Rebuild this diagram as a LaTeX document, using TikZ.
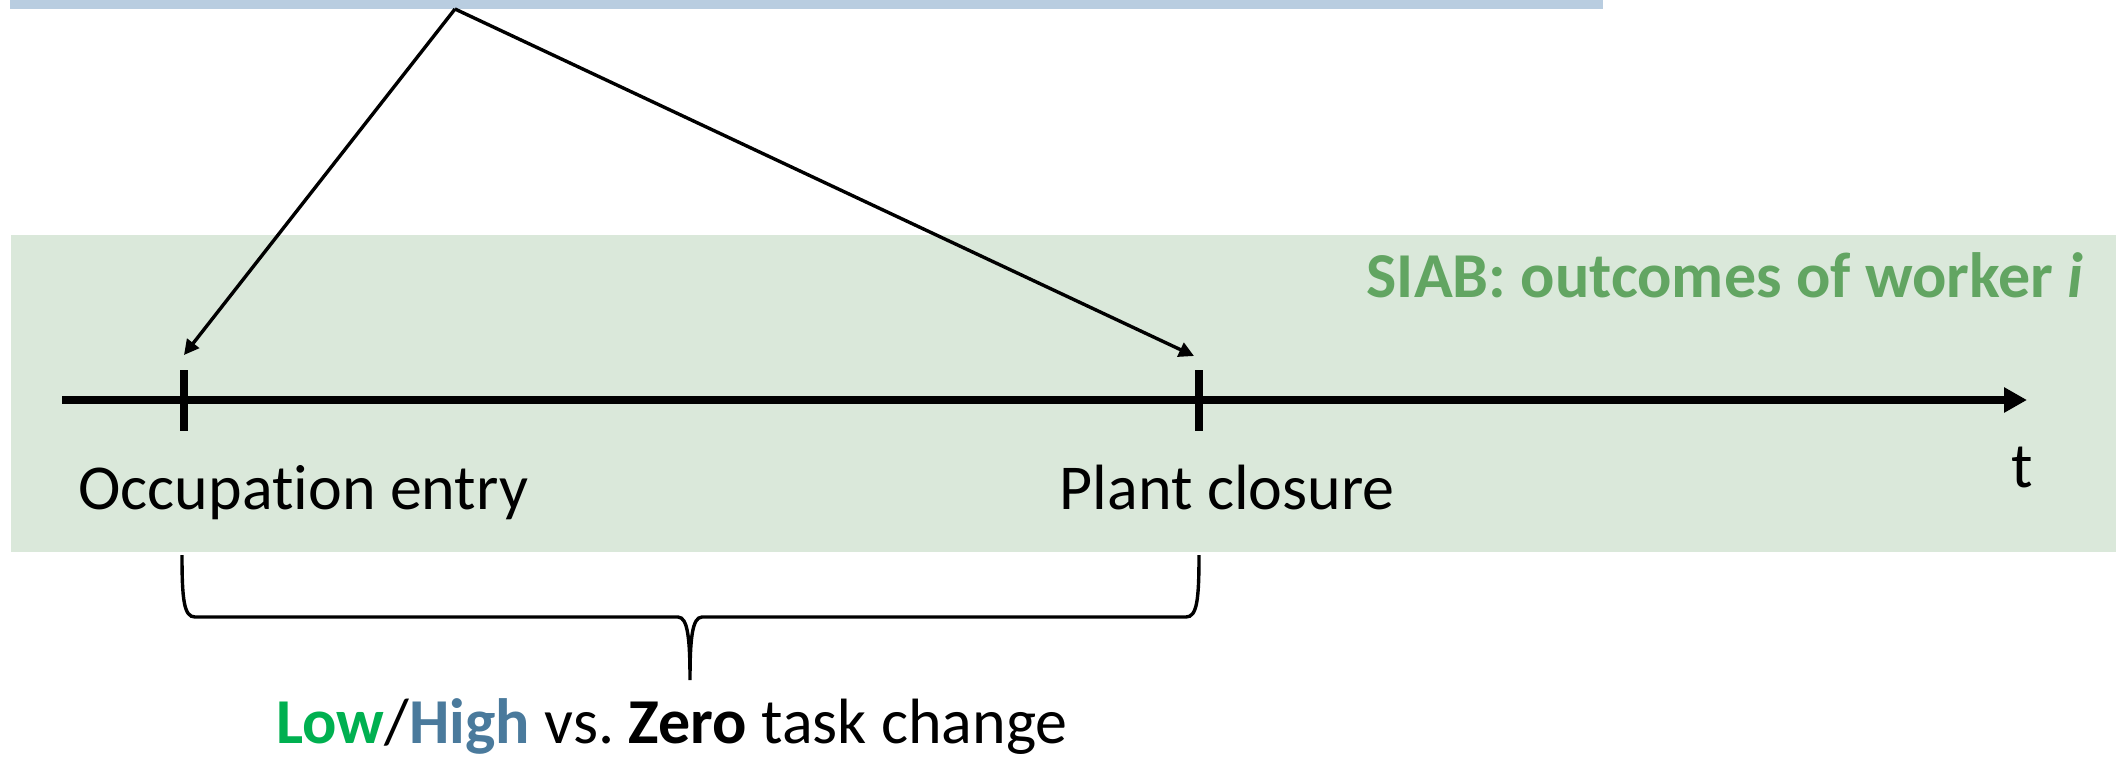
\documentclass[tikz,border=0pt]{standalone}
\usepackage{fontspec}
\setmainfont[Ligatures={NoCommon}]{Carlito}
\frenchspacing
\usetikzlibrary{arrows.meta}
\definecolor{bandblue}{HTML}{B9CDE0}
\definecolor{bandgreen}{HTML}{DAE8DA}
\definecolor{siabgreen}{HTML}{62A562}
\definecolor{lowgreen}{HTML}{00B050}
\definecolor{highblue}{HTML}{4A7A9C}
\tikzset{
  lbl/.style={inner sep=0pt, font=\fontsize{32}{38}\selectfont},
  axisline/.style={line width=3.6pt, -{Triangle[length=11.5pt,width=12pt]}},
  tickmark/.style={line width=4pt},
  pointer/.style={line width=1.7pt, -{Triangle[length=7.5pt,width=7.5pt]}},
  bracepath/.style={line width=1.7pt}
}
\begin{document}
\begin{tikzpicture}[x=0.5pt,y=-0.5pt]
\useasboundingbox (0,0) rectangle (2116,757);
% bands
\fill[bandblue] (10,0) rectangle (1603,9);
\fill[bandgreen] (11,235) rectangle (2116,552);
% coordinates
\coordinate (start) at (62,400);
\coordinate (end) at (2027,400);
\coordinate (apex) at (455,9);
\coordinate (entrytop) at (184,370);
\coordinate (entrybot) at (184,431);
\coordinate (closetop) at (1199,370);
\coordinate (closebot) at (1199,431);
\coordinate (entryhead) at (184,355);
\coordinate (closehead) at (1194,356);
% axis
\draw[axisline] (start) -- (end);
\draw[tickmark] (entrytop) -- (entrybot);
\draw[tickmark] (closetop) -- (closebot);
% pointers
\draw[pointer] (apex) -- (entryhead);
\draw[pointer] (apex) -- (closehead);
% labels
\node[lbl, anchor=base west] (entry) at (78,509) {Occupation entry};
\node[lbl, anchor=base east] (closure) at (1395,509) {Plant closure};
\node[lbl, anchor=base] (t) at (2022,487) {t};
\node[lbl, anchor=base east, text=siabgreen, font=\fontsize{32}{38}\selectfont\bfseries] (siab) at (2084,297) {SIAB: outcomes of worker \textit{i}};
% brace
\coordinate (bl) at (182,555);
\coordinate (br) at (1199,555);
\coordinate (btip) at (690,680);
\draw[bracepath] (bl) .. controls (182,600) and (184,617) .. (195,617)
  -- (678,617) .. controls (688,617) and (690,640) .. (btip)
  .. controls (690,640) and (692,617) .. (702,617)
  -- (1186,617) .. controls (1197,617) and (1199,600) .. (br);
\node[lbl, anchor=base] (change) at (672,743) {\textcolor{lowgreen}{\textbf{Low}}/\textcolor{highblue}{\textbf{High}} vs. \textbf{Zero} task change};
\end{tikzpicture}
\end{document}
